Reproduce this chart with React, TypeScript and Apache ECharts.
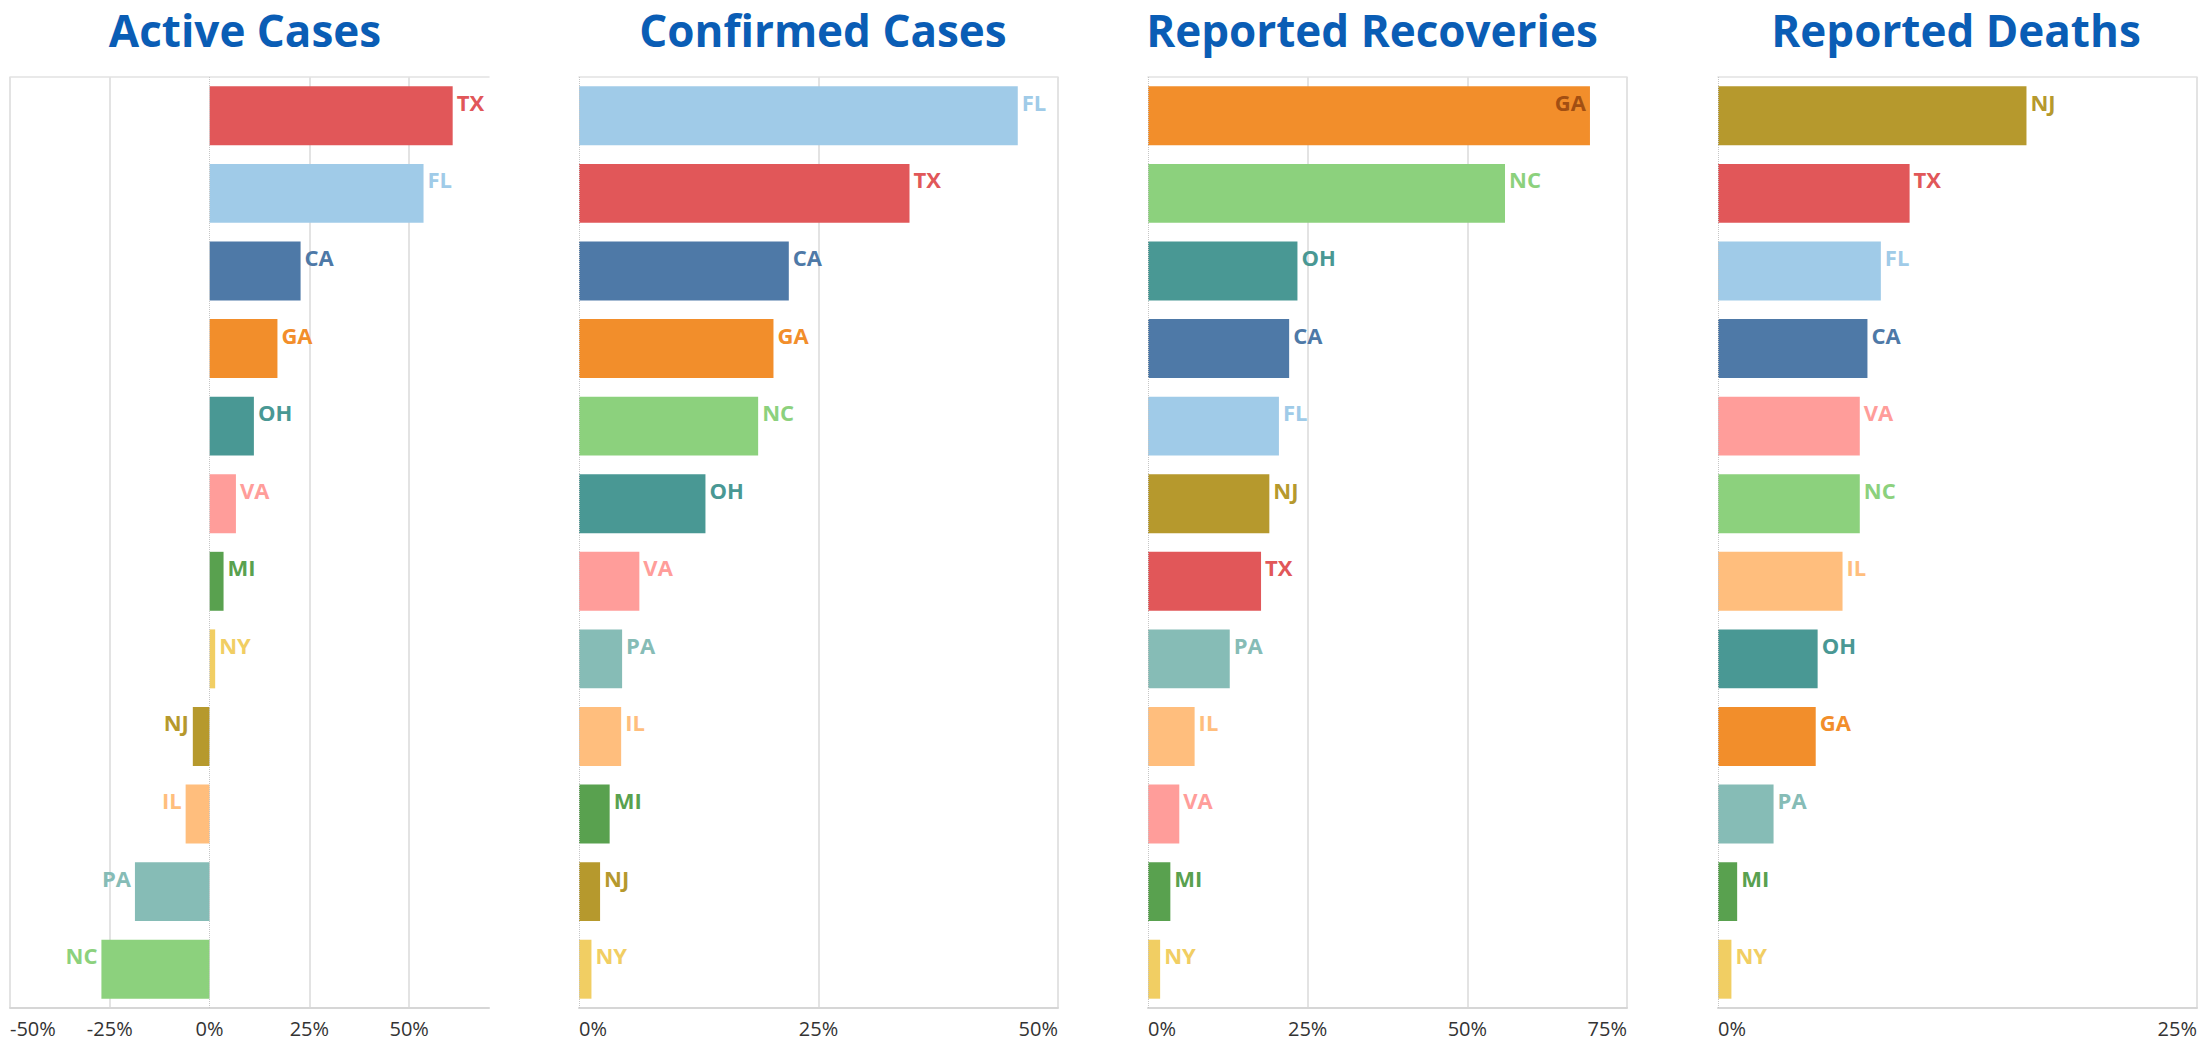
import React, { useEffect, useRef } from "react";
import * as echarts from "echarts";

const stateColors: Record<string, string> = {
  TX: "#E15759",
  FL: "#A0CBE8",
  CA: "#4E79A7",
  GA: "#F28E2B",
  OH: "#499894",
  VA: "#FF9D9A",
  MI: "#59A14F",
  NY: "#F1CE63",
  NJ: "#B6992D",
  IL: "#FFBE7D",
  PA: "#86BCB6",
  NC: "#8CD17D",
};

const panelTitles = ["Active Cases", "Confirmed Cases", "Reported Recoveries", "Reported Deaths"];

const activeStates = ["TX", "FL", "CA", "GA", "OH", "VA", "MI", "NY", "NJ", "IL", "PA", "NC"];
const activeValues = [60.9, 53.6, 22.8, 17.0, 11.1, 6.6, 3.5, 1.4, -4.2, -6.0, -18.7, -27.1];

const confirmedStates = ["FL", "TX", "CA", "GA", "NC", "OH", "VA", "PA", "IL", "MI", "NJ", "NY"];
const confirmedValues = [45.8, 34.5, 21.9, 20.3, 18.7, 13.2, 6.3, 4.5, 4.4, 3.2, 2.2, 1.3];

const recoveredStates = ["GA", "NC", "OH", "CA", "FL", "NJ", "TX", "PA", "IL", "VA", "MI", "NY"];
const recoveredValues = [69.2, 55.9, 23.4, 22.1, 20.5, 19.0, 17.7, 12.8, 7.3, 4.9, 3.5, 1.9];

const deathStates = ["NJ", "TX", "FL", "CA", "VA", "NC", "IL", "OH", "GA", "PA", "MI", "NY"];
const deathValues = [16.1, 10.0, 8.5, 7.8, 7.4, 7.4, 6.5, 5.2, 5.1, 2.9, 1.0, 0.7];

const axisMins = [-50, 0, 0, 0];
const axisMaxs = [70, 50, 75, 25];
const tickStep = 25;

const panelStates = [activeStates, confirmedStates, recoveredStates, deathStates];
const panelValues = [activeValues, confirmedValues, recoveredValues, deathValues];

const FONT = "'Open Sans', 'Noto Sans', sans-serif";
const GRID_LEFTS = [10, 579, 1148, 1718];
const GRID_WIDTH = 479;
const GRID_TOP = 77;
const GRID_HEIGHT = 931;
const TITLE_CENTERS = [245, 823, 1372, 1956];

export default function App() {
  const ref = useRef<HTMLDivElement>(null);

  useEffect(() => {
    document.body.style.margin = "0";
    if (!ref.current) return;
    const chart = echarts.init(ref.current, undefined, { renderer: "svg" });

    const grids: any[] = [];
    const xAxes: any[] = [];
    const yAxes: any[] = [];
    const series: any[] = [];
    const titles: any[] = [];

    for (let i = 0; i < 4; i++) {
      const min = axisMins[i];
      const max = axisMaxs[i];
      grids.push({ left: GRID_LEFTS[i], width: GRID_WIDTH, top: GRID_TOP, height: GRID_HEIGHT, containLabel: false });

      const splitColors: string[] = [];
      for (let v = min; v <= max; v += tickStep) {
        splitColors.push(v === 0 ? "rgba(0,0,0,0)" : "#dadada");
      }
      if ((max - min) % tickStep !== 0) splitColors.push("rgba(0,0,0,0)");

      xAxes.push({
        type: "value",
        gridIndex: i,
        position: "bottom",
        min,
        max,
        interval: tickStep,
        axisLine: { show: true, lineStyle: { color: "#d6d6d6", width: 2 } },
        axisTick: { show: false },
        splitLine: { show: true, lineStyle: { color: splitColors, width: 1.5 } },
        axisLabel: {
          show: true,
          color: "#333333",
          fontFamily: FONT,
          fontSize: 20,
          margin: 10,
          alignMinLabel: "left",
          alignMaxLabel: "right",
          formatter: (v: number) => ((v - min) % tickStep === 0 ? `${v}%` : ""),
        },
      });

      titles.push({
        text: panelTitles[i],
        left: TITLE_CENTERS[i],
        top: 5,
        padding: 0,
        textAlign: "center",
        textStyle: { color: "#0A5DB5", fontSize: 44, lineHeight: 50, fontWeight: "bold", fontFamily: FONT },
      });

      yAxes.push({
        type: "category",
        gridIndex: i,
        inverse: true,
        data: panelStates[i],
        show: false,
      });

      const states = panelStates[i];
      series.push({
        type: "bar",
        xAxisIndex: i,
        yAxisIndex: i,
        barCategoryGap: "24%",
        label: {
          show: true,
          fontFamily: FONT,
          fontSize: 22,
          fontWeight: "bold",
          distance: 4,
          offset: [0, -14],
          formatter: (p: any) => p.name,
        },
        markLine: {
          silent: true,
          symbol: "none",
          label: { show: false },
          lineStyle: { type: "dotted", color: "#c6c6c6", width: 1 },
          data: [{ xAxis: 0 }],
        },
        data: panelValues[i].map((v, j) => {
          const s = states[j];
          const inside = i === 2 && j === 0;
          return {
            value: v,
            itemStyle: { color: stateColors[s] },
            label: {
              position: inside ? "insideRight" : v < 0 ? "left" : "right",
              color: inside ? "#A24F12" : stateColors[s],
            },
          };
        }),
      });
    }

    // top border axes
    for (let i = 0; i < 4; i++) {
      xAxes.push({
        type: "value",
        gridIndex: i,
        position: "top",
        min: axisMins[i],
        max: axisMaxs[i],
        interval: tickStep,
        axisLine: { show: true, lineStyle: { color: "#e2e2e2", width: 1.5 } },
        axisTick: { show: false },
        axisLabel: { show: false },
        splitLine: { show: false },
      });
    }

    chart.setOption({
      animation: false,
      backgroundColor: "#ffffff",
      title: titles,
      grid: grids,
      xAxis: xAxes,
      yAxis: yAxes,
      series,
    });

    return () => chart.dispose();
  }, []);

  return <div ref={ref} style={{ width: 2204, height: 1044 }} />;
}
